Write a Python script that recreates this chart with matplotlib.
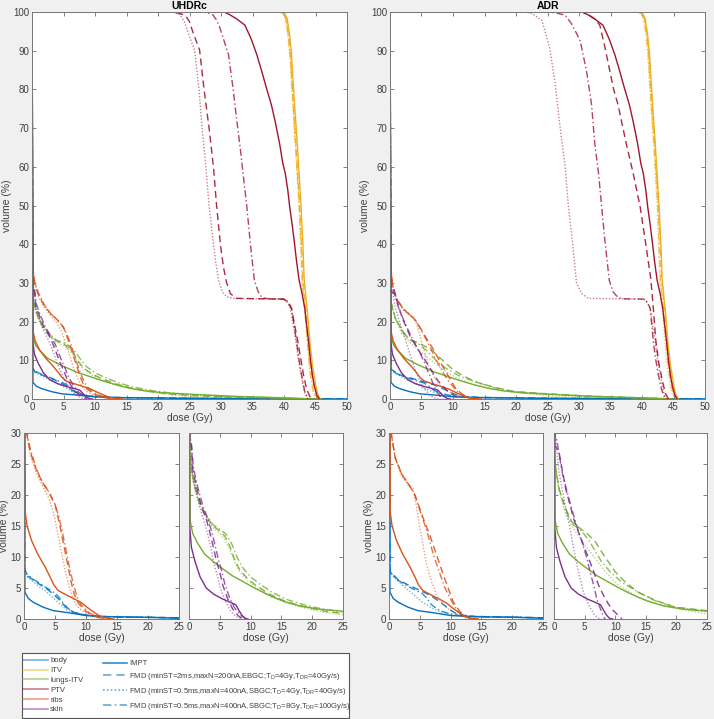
import matplotlib
matplotlib.use("Agg")
import matplotlib.pyplot as plt
from matplotlib.lines import Line2D
from matplotlib.patches import Rectangle

plt.rcParams['font.family'] = ['Liberation Sans', 'DejaVu Sans']
plt.rcParams['mathtext.default'] = 'regular'

# ---- DVH data: (dose Gy, volume %) ----
# IMPT plan (same in both panels)
impt_body = [(0, 100), (0.15, 4.3), (0.7, 3.3), (1.5, 2.7), (3.1, 1.9), (4.7, 1.35), (6.9, 1.05),
             (8.5, 0.8), (10.1, 0.55), (13.9, 0.37), (20.3, 0.27), (25, 0.12), (50, 0)]
impt_itv = [(0, 100), (39.6, 100), (40.1, 99.6), (40.5, 98.3), (40.9, 94), (41.2, 88.9), (41.6, 78),
            (42.1, 66), (42.4, 58), (42.7, 50), (43.0, 40), (43.2, 31), (43.5, 26), (43.7, 23),
            (44.1, 14.8), (44.5, 9), (44.8, 6), (45.1, 3), (45.4, 1), (45.8, 0)]
impt_lungs = [(0, 100), (0.2, 15.8), (0.6, 13.8), (1.3, 12.4), (2.5, 10.5), (4, 9.2), (5.2, 8.3),
              (7, 7), (9, 5.9), (11, 4.8), (13.3, 3.7), (15.5, 2.8), (18, 2.1), (21, 1.6),
              (25, 1.25), (32, 0.7), (40, 0.3), (45, 0)]
impt_ptv = [(0, 100), (30.5, 100), (31.4, 99.3), (32.5, 98.2), (33.8, 96.6), (34.8, 93), (35.7, 88.9),
            (36.5, 84.5), (37.2, 80.4), (38, 76), (38.6, 71.7), (39.3, 66), (39.8, 61), (40.2, 58.3),
            (40.6, 54), (40.9, 49.7), (41.3, 45), (41.6, 41.1), (42, 35.5), (42.4, 30.7), (42.9, 27),
            (43.3, 23.4), (43.6, 19), (43.9, 14.8), (44.2, 10), (44.5, 6.2), (44.8, 3.5), (45.2, 1),
            (45.6, 0)]
impt_ribs = [(0, 100), (0.2, 17.2), (0.5, 15), (1.2, 12.7), (2.2, 10.5), (3.4, 8.4), (4.2, 6.8),
             (4.8, 5.5), (5.5, 4.6), (6.6, 4), (8.2, 3.2), (9.3, 2.6), (10.3, 1.8), (11.4, 1.0),
             (12.4, 0.4), (13.5, 0.1), (14.5, 0)]
impt_skin = [(0, 100), (0.1, 15), (0.4, 11.5), (1, 9.2), (1.8, 6.8), (2.8, 5), (4, 4), (5.5, 3.2),
             (6.7, 2.7), (7.6, 2.3), (8.1, 1.4), (8.6, 0.6), (9.1, 0.1), (9.6, 0)]

# UHDRc FMD plans
uhdrc_body_fmd1 = [(0, 100), (0.1, 8), (0.5, 7), (1.5, 6.3), (2.5, 5.6), (3.5, 5), (4.5, 4.2), (5.5, 3.3),
                   (6.3, 2.4), (7, 1.7), (8, 1.1), (9.5, 0.7), (12, 0.4), (17, 0.3), (25, 0.2), (50, 0)]
uhdrc_body_fmd2 = [(0, 100), (0.1, 7.5), (0.5, 6.8), (1.5, 6), (2.5, 5.2), (3.5, 4.5), (4.5, 3.6),
                   (5.5, 2.7), (6.3, 2), (7, 1.4), (8, 1), (9.5, 0.6), (12, 0.4), (17, 0.3), (25, 0.2),
                   (50, 0)]
uhdrc_body_fmd3 = [(0, 100), (0.1, 8), (0.5, 7.2), (1.5, 6.4), (2.5, 5.8), (3.5, 5.1), (4.5, 4.5),
                   (5.5, 3.7), (6.3, 2.6), (7, 1.8), (7.8, 1.2), (9, 0.8), (12, 0.4), (17, 0.3),
                   (25, 0.2), (50, 0)]
uhdrc_itv_fmd1 = [(0, 100), (39.4, 100), (39.9, 99.6), (40.3, 98.3), (40.7, 94), (41.0, 88.9),
                  (41.4, 78), (41.9, 66), (42.2, 58), (42.5, 50), (42.8, 40), (43.0, 31), (43.3, 26),
                  (43.5, 23), (43.9, 14.8), (44.2, 9), (44.5, 6), (44.8, 3), (45.1, 1), (45.5, 0)]
uhdrc_itv_fmd2 = [(0, 100), (39.3, 100), (39.8, 99.6), (40.2, 98.3), (40.6, 94), (40.9, 88.9),
                  (41.3, 78), (41.8, 66), (42.1, 58), (42.4, 50), (42.6, 40), (42.8, 31), (43.1, 26),
                  (43.3, 23), (43.7, 14.8), (44.0, 9), (44.3, 6), (44.6, 3), (44.9, 1), (45.3, 0)]
uhdrc_itv_fmd3 = [(0, 100), (39.4, 100), (39.9, 99.6), (40.3, 98.3), (40.7, 94), (41.0, 88.9),
                  (41.4, 78), (41.8, 66), (42.1, 58), (42.4, 50), (42.7, 40), (42.9, 31), (43.1, 26),
                  (43.3, 23), (43.7, 14.8), (44.0, 9), (44.2, 6), (44.5, 3), (44.8, 1), (45.2, 0)]
uhdrc_lungs_fmd1 = [(0, 100), (0.05, 27), (0.4, 24), (0.9, 21.4), (1.7, 18.7), (2.8, 16.6), (3.9, 15),
                    (5.0, 14.2), (5.8, 13.4), (6.6, 11.8), (7.4, 9.6), (8.2, 8.0), (9.6, 6.4),
                    (10.9, 5.4), (13.1, 4.0), (15.8, 2.8), (19, 1.9), (22.3, 1.2), (25, 0.9), (32, 0.5),
                    (40, 0.2), (45, 0)]
uhdrc_lungs_fmd2 = [(0, 100), (0.05, 26), (0.4, 23.5), (0.9, 21), (1.7, 18.4), (2.8, 16.3), (3.9, 14.7),
                    (5.0, 13.8), (5.8, 12.8), (6.6, 11.2), (7.4, 9.2), (8.2, 7.7), (9.6, 6.1),
                    (10.9, 5.1), (13.1, 3.7), (15.8, 2.6), (19, 1.7), (22.3, 1.0), (25, 0.7), (32, 0.4),
                    (40, 0.15), (45, 0)]
uhdrc_lungs_fmd3 = [(0, 100), (0.05, 27.5), (0.4, 24.2), (0.9, 21.6), (1.7, 18.9), (2.8, 16.8),
                    (3.9, 15.2), (5.0, 14.5), (6.0, 13.7), (6.9, 12.2), (7.8, 10), (8.7, 8.3),
                    (10, 6.8), (11.4, 5.7), (13.5, 4.3), (16, 3.1), (19, 2.2), (22.3, 1.5), (25, 1.15),
                    (32, 0.6), (40, 0.25), (45, 0)]
uhdrc_ptv_fmd1 = [(0, 100), (22, 100), (23, 99.8), (24.3, 99.2), (25, 97.5), (25.6, 94.5), (26.6, 90.2),
                  (27.3, 80.1), (28.1, 70.1), (28.8, 60), (29.3, 50), (29.9, 40), (30.4, 34), (30.9, 30),
                  (31.5, 27.2), (32.5, 26), (40, 25.8), (40.6, 25), (41.2, 23.4), (41.7, 19), (42.2, 14.8),
                  (42.7, 10), (43.1, 6.2), (43.6, 2.5), (44.2, 0.3), (44.5, 0)]
uhdrc_ptv_fmd2 = [(0, 100), (22.3, 100), (23.5, 99.3), (24.2, 97.5), (24.8, 94.5), (25.8, 90.2),
                  (26.5, 80), (27, 70), (27.6, 60), (28.1, 50), (28.8, 40), (29.2, 35), (29.7, 30),
                  (30.3, 27.5), (30.9, 26.4), (31.9, 26), (40, 25.8), (40.5, 25), (41, 23.4), (41.5, 19),
                  (41.9, 14.8), (42.3, 10), (42.7, 6.2), (43.2, 2), (43.7, 0.2), (44, 0)]
uhdrc_ptv_fmd3 = [(0, 100), (27.5, 100), (28.7, 99.3), (29.3, 97.9), (29.8, 96), (30.5, 92.5),
                  (31.2, 88.9), (31.9, 80.4), (32.5, 72), (33, 65.6), (33.5, 58.3), (34.1, 49.7),
                  (34.6, 41.1), (35, 35), (35.3, 30.7), (35.9, 27.7), (36.5, 26.2), (37.5, 25.9),
                  (40.2, 25.8), (40.7, 25), (41.2, 23.4), (41.6, 19), (42, 14.8), (42.4, 10), (42.8, 6.2),
                  (43.3, 1.9), (43.8, 0)]
uhdrc_ribs_fmd1 = [(0, 100), (0.15, 33), (0.4, 30), (1, 27), (2, 24), (3, 22), (4, 20.5), (5, 18.5),
                   (5.8, 15), (6.4, 12), (7, 9), (7.6, 6), (8.1, 4), (8.8, 2.5), (10, 1.2), (11.5, 0.4),
                   (13, 0)]
uhdrc_ribs_fmd2 = [(0, 100), (0.15, 32), (0.4, 30), (1, 26.5), (2, 23.5), (3, 21.5), (4, 19.5),
                   (4.8, 17), (5.4, 14), (6, 11), (6.6, 8), (7.2, 5.5), (7.8, 3.5), (8.6, 2), (10, 0.9),
                   (11.5, 0.3), (12.5, 0)]
uhdrc_ribs_fmd3 = [(0, 100), (0.15, 34), (0.4, 30.5), (1, 27.5), (2, 24.2), (3, 22), (4, 20.5),
                   (5, 18.5), (5.6, 16.5), (6.2, 14), (6.8, 11), (7.4, 8), (8, 5.5), (8.6, 3.5),
                   (9.3, 2.2), (10.5, 1), (12, 0.3), (13, 0)]
uhdrc_skin_fmd1 = [(0, 100), (0.1, 29), (0.4, 27.9), (0.6, 24.1), (1.2, 21.4), (2.0, 18.2), (2.8, 16.1),
                   (3.4, 13.9), (3.9, 11.8), (4.4, 9.6), (5.0, 7.5), (5.5, 5.4), (6.3, 3.2), (7.1, 1.6),
                   (8.0, 0.5), (8.8, 0)]
uhdrc_skin_fmd2 = [(0, 100), (0.1, 28.5), (0.4, 27), (0.6, 23.5), (1.1, 20.8), (1.8, 17.8), (2.5, 15.6),
                   (3.1, 13.4), (3.6, 11.2), (4.0, 9.1), (4.6, 7.0), (5.1, 5.0), (5.9, 2.9), (6.7, 1.4),
                   (7.6, 0.4), (8.4, 0)]
uhdrc_skin_fmd3 = [(0, 100), (0.1, 29.5), (0.4, 28.2), (0.7, 24.5), (1.3, 21.7), (2.2, 18.4),
                   (3.0, 16.2), (3.7, 14.1), (4.2, 12.0), (4.7, 9.9), (5.3, 7.8), (5.8, 5.7), (6.6, 3.4),
                   (7.4, 1.8), (8.4, 0.6), (9.3, 0)]

# ADR FMD plans
adr_body_fmd1 = [(0, 100), (0.15, 7.7), (1.5, 6.3), (3.1, 5.5), (5.3, 4.5), (6.9, 3.7), (8.5, 2.6),
                 (9.9, 1.5), (11.2, 0.7), (14, 0.4), (20, 0.3), (25, 0.2), (50, 0)]
adr_body_fmd2 = [(0, 100), (0.15, 7.4), (2.1, 5.5), (3.7, 4.2), (5.3, 2.8), (6.9, 1.8), (8.5, 1.1),
                 (10.7, 0.6), (14, 0.4), (20, 0.3), (25, 0.2), (50, 0)]
adr_body_fmd3 = [(0, 100), (0.15, 7.7), (1.0, 6.6), (2.6, 5.5), (4.2, 4.7), (5.3, 4.2), (6.1, 3.4),
                 (6.9, 2.3), (8.0, 1.5), (9.3, 1.0), (11.2, 0.6), (14, 0.4), (20, 0.3), (25, 0.2), (50, 0)]
adr_itv_fmd1 = [(0, 100), (39.5, 100), (40.0, 99.6), (40.4, 98.3), (40.8, 94), (41.1, 88.9), (41.5, 78),
                (42.0, 66), (42.3, 58), (42.6, 50), (42.9, 40), (43.1, 31), (43.4, 26), (43.6, 23),
                (44.0, 14.8), (44.3, 9), (44.6, 6), (44.9, 3), (45.2, 1), (45.6, 0)]
adr_itv_fmd2 = [(0, 100), (39.3, 100), (39.8, 99.6), (40.2, 98.3), (40.6, 94), (40.9, 88.9), (41.3, 78),
                (41.8, 66), (42.1, 58), (42.4, 50), (42.6, 40), (42.8, 31), (43.0, 26), (43.2, 23),
                (43.6, 14.8), (43.9, 9), (44.2, 6), (44.5, 3), (44.8, 1), (45.2, 0)]
adr_itv_fmd3 = [(0, 100), (39.4, 100), (39.9, 99.6), (40.3, 98.3), (40.7, 94), (41.0, 88.9), (41.4, 78),
                (41.9, 66), (42.2, 58), (42.5, 50), (42.7, 40), (42.9, 31), (43.2, 26), (43.4, 23),
                (43.8, 14.8), (44.1, 9), (44.4, 6), (44.7, 3), (45.0, 1), (45.4, 0)]
adr_lungs_fmd1 = [(0, 100), (0.05, 27), (0.2, 24.9), (0.8, 21.1), (1.9, 17.8), (2.9, 15.7), (4.3, 14.6),
                  (5.7, 13.5), (6.8, 12.4), (7.8, 10.8), (8.9, 9.2), (10.0, 7.6), (11.7, 5.9),
                  (13.8, 4.3), (16.6, 3.0), (19.8, 1.9), (25, 1.35), (32, 0.7), (40, 0.3), (45, 0)]
adr_lungs_fmd2 = [(0, 100), (0.05, 26), (0.2, 24.5), (0.9, 20.5), (1.9, 16.8), (3.5, 14.1), (5.1, 11.9),
                  (6.8, 9.7), (8.4, 7.6), (10.6, 5.4), (13.8, 3.5), (17.6, 2.2), (22, 1.35), (25, 0.8),
                  (32, 0.4), (40, 0.15), (45, 0)]
adr_lungs_fmd3 = [(0, 100), (0.05, 27), (0.2, 24.7), (0.8, 21), (1.9, 17.6), (2.9, 15.4), (4.6, 14.1),
                  (5.9, 12.4), (6.8, 10.8), (7.8, 9.2), (9.2, 7.6), (11.1, 5.9), (13.8, 4.3),
                  (16.6, 2.9), (19.8, 1.9), (25, 1.25), (32, 0.65), (40, 0.25), (45, 0)]
adr_ptv_fmd1 = [(0, 100), (30.5, 100), (31.5, 99.3), (32.5, 98.2), (33.3, 96.6), (34.1, 91), (34.9, 84.7),
                (35.5, 80), (36.2, 76), (37.5, 66), (38.6, 58.3), (39.7, 49.7), (40.5, 41.1), (41.4, 31),
                (41.8, 23.4), (42.2, 15), (42.7, 9), (43.2, 5), (43.7, 1.5), (44.2, 0)]
adr_ptv_fmd2 = [(0, 100), (21.5, 100), (22.5, 99.6), (24.1, 97.9), (24.8, 94), (25.4, 90.2), (26.2, 81.6),
                (27, 70.2), (27.8, 60), (28.3, 50), (29, 40), (29.6, 30), (30.4, 27.3), (31.5, 26),
                (40.3, 25.8), (40.8, 25), (41.3, 23.4), (41.7, 19), (42.1, 14.8), (42.5, 10), (42.9, 6.2),
                (43.4, 1.9), (43.9, 0)]
adr_ptv_fmd3 = [(0, 100), (25, 100), (26.5, 99.7), (27.8, 99.2), (28.8, 97), (29.6, 94.5), (30.2, 92.5),
                (31.2, 84.7), (32, 76), (32.5, 66), (33.1, 58.3), (33.6, 49.7), (34.1, 41.1), (34.8, 30.7),
                (35.4, 27.7), (36.2, 26.2), (37, 25.9), (40.5, 25.8), (41, 24.5), (41.3, 23.4),
                (41.8, 14.8), (42.2, 10), (42.6, 6.2), (43.1, 2.5), (43.6, 0.3), (43.9, 0)]
adr_ribs_fmd1 = [(0, 100), (0.15, 33), (0.4, 29.7), (1.0, 26), (2.1, 23.3), (3.4, 21.4), (4.2, 20),
                 (5.0, 17.8), (5.8, 15.6), (6.6, 13.6), (7.7, 10.4), (8.8, 7.2), (9.6, 5), (10.4, 2.8),
                 (11.5, 1.2), (12.6, 0.3), (13.3, 0)]
adr_ribs_fmd2 = [(0, 100), (0.15, 32), (0.4, 29.5), (1.0, 26), (2.1, 23), (3.2, 21.5), (3.9, 21.1),
                 (4.5, 17.9), (5.0, 14.7), (5.6, 11.5), (6.1, 8.8), (6.9, 6.1), (7.7, 3.9), (8.8, 2.3),
                 (10.2, 1.2), (11.8, 0.4), (12.8, 0)]
adr_ribs_fmd3 = [(0, 100), (0.15, 34), (0.4, 29.7), (1.0, 26), (2.1, 23.3), (3.4, 21.4), (4.2, 20),
                 (5.0, 17.6), (5.8, 15.2), (6.4, 13.3), (7.2, 10.4), (8.3, 7.2), (9.1, 5), (10.2, 2.8),
                 (11.2, 1.2), (12.3, 0.4), (13.1, 0)]
adr_skin_fmd1 = [(0, 100), (0.1, 28), (0.8, 27), (1.9, 21.1), (3.2, 16.2), (4.6, 12.4), (5.7, 9.7),
                 (6.5, 7.6), (7.3, 5.4), (8.1, 3.8), (8.9, 2.4), (9.7, 1.35), (10.6, 0.5), (11.1, 0)]
adr_skin_fmd2 = [(0, 100), (0.1, 30), (0.2, 29.7), (0.8, 23.8), (1.6, 19.5), (2.4, 15.7), (3.2, 11.4),
                 (4.0, 7.6), (4.8, 4.3), (5.7, 2.2), (6.5, 0.8), (7.3, 0.1), (7.8, 0)]
adr_skin_fmd3 = [(0, 100), (0.1, 30), (0.5, 28.6), (1.3, 23.8), (2.4, 19.5), (3.5, 15.7), (4.6, 12.4),
                 (5.4, 9.7), (5.9, 7.6), (6.5, 5.4), (7.0, 3.2), (7.6, 1.6), (8.1, 0.3), (8.4, 0)]

structures = ['body', 'ITV', 'lungs-ITV', 'PTV', 'ribs', 'skin']
colors = ['#0072BD', '#EDB120', '#77AC30', '#A2142F', '#D95319', '#7E2F8E']
plan_labels = ['IMPT',
               'FMD (minST=2ms,maxN=200nA,EBGC;T$_D$=4Gy,T$_{DR}$=40Gy/s)',
               'FMD (minST=0.5ms,maxN=400nA,SBGC;T$_D$=4Gy,T$_{DR}$=40Gy/s)',
               'FMD (minST=0.5ms,maxN=400nA,SBGC;T$_D$=8Gy,T$_{DR}$=100Gy/s)']
plan_styles = ['-', (0, (5, 3)), (0, (1, 1.3)), (0, (5, 2, 1, 2))]
plan_alpha = [1.0, 0.9, 0.55, 0.8]

impt = [impt_body, impt_itv, impt_lungs, impt_ptv, impt_ribs, impt_skin]
uhdrc = [[uhdrc_body_fmd1, uhdrc_body_fmd2, uhdrc_body_fmd3],
         [uhdrc_itv_fmd1, uhdrc_itv_fmd2, uhdrc_itv_fmd3],
         [uhdrc_lungs_fmd1, uhdrc_lungs_fmd2, uhdrc_lungs_fmd3],
         [uhdrc_ptv_fmd1, uhdrc_ptv_fmd2, uhdrc_ptv_fmd3],
         [uhdrc_ribs_fmd1, uhdrc_ribs_fmd2, uhdrc_ribs_fmd3],
         [uhdrc_skin_fmd1, uhdrc_skin_fmd2, uhdrc_skin_fmd3]]
adr = [[adr_body_fmd1, adr_body_fmd2, adr_body_fmd3],
       [adr_itv_fmd1, adr_itv_fmd2, adr_itv_fmd3],
       [adr_lungs_fmd1, adr_lungs_fmd2, adr_lungs_fmd3],
       [adr_ptv_fmd1, adr_ptv_fmd2, adr_ptv_fmd3],
       [adr_ribs_fmd1, adr_ribs_fmd2, adr_ribs_fmd3],
       [adr_skin_fmd1, adr_skin_fmd2, adr_skin_fmd3]]

W, H = 714, 719
fig = plt.figure(figsize=(W / 100, H / 100), dpi=100, facecolor='#F0F0F0')


def px_axes(x0, y0, x1, y1):
    # pixel box (left, top, right, bottom) -> figure axes
    return fig.add_axes([x0 / W, 1 - y1 / H, (x1 - x0) / W, (y1 - y0) / H])


def style_axes(ax, xmax, ymax, xstep, ystep, ylabels=True):
    ax.set_xlim(0, xmax)
    ax.set_ylim(0, ymax)
    ax.set_xticks(range(0, xmax + 1, xstep))
    ax.set_yticks(range(0, ymax + 1, ystep))
    ax.tick_params(direction='in', top=True, right=True, length=3, width=0.6,
                   labelsize=7, colors='#6e6e6e', labelcolor='#404040', pad=2)
    if not ylabels:
        ax.set_yticklabels([])
    for s in ax.spines.values():
        s.set_color('#7a7a7a')
        s.set_linewidth(0.7)
    ax.set_xlabel('dose (Gy)', fontsize=7.5, color='#404040', labelpad=1)
    if ylabels:
        ax.set_ylabel('volume (%)', fontsize=7.5, color='#404040', labelpad=1)


def draw(ax, fmd, which):
    for i in which:
        curves = [impt[i]] + fmd[i]
        for k, c in enumerate(curves):
            d = [p[0] for p in c]
            v = [p[1] for p in c]
            ax.plot(d, v, color=colors[i], ls=plan_styles[k], lw=1.0, alpha=plan_alpha[k])


all_idx = range(len(structures))
ax1 = px_axes(32, 12, 347, 399)
draw(ax1, uhdrc, all_idx)
style_axes(ax1, 50, 100, 5, 10)
ax1.set_title('UHDRc', fontsize=7.5, fontweight='bold', pad=2)

ax2 = px_axes(390, 12, 705, 399)
draw(ax2, adr, all_idx)
style_axes(ax2, 50, 100, 5, 10)
ax2.set_title('ADR', fontsize=7.5, fontweight='bold', pad=2)

for x0, x1, fmd, idx, yl in [(24, 179, uhdrc, [0, 4], True), (189, 343, uhdrc, [2, 5], False),
                             (389, 543, adr, [0, 4], True), (554, 707, adr, [2, 5], False)]:
    ax = px_axes(x0, 433, x1, 619)
    draw(ax, fmd, idx)
    style_axes(ax, 25, 30, 5, 5, ylabels=yl)

# legend
fig.patches.append(Rectangle((22 / W, 1 - 718 / H), 327 / W, 65 / H, transform=fig.transFigure,
                             facecolor='white', edgecolor='#555555', lw=0.8, zorder=0))
h1 = [Line2D([], [], color=c, lw=1.2, alpha=0.55) for c in colors]
fig.legend(h1, structures, loc='upper left', bbox_to_anchor=(23 / W, 1 - 657 / H), frameon=False,
           fontsize=5.6, handlelength=3.2, labelspacing=0.3, handletextpad=0.3, borderpad=0,
           borderaxespad=0, labelcolor='#404040')
h2 = [Line2D([], [], color=colors[0], ls=plan_styles[k], lw=1.2, alpha=[0.8, 0.6, 0.6, 0.6][k])
      for k in range(4)]
fig.legend(h2, plan_labels, loc='upper left', bbox_to_anchor=(103 / W, 1 - 660 / H), frameon=False,
           fontsize=5.5, handlelength=3.2, labelspacing=0.5, handletextpad=0.2, borderpad=0,
           borderaxespad=0, labelcolor='#404040')

fig.savefig('out.png', dpi=100, facecolor=fig.get_facecolor())
